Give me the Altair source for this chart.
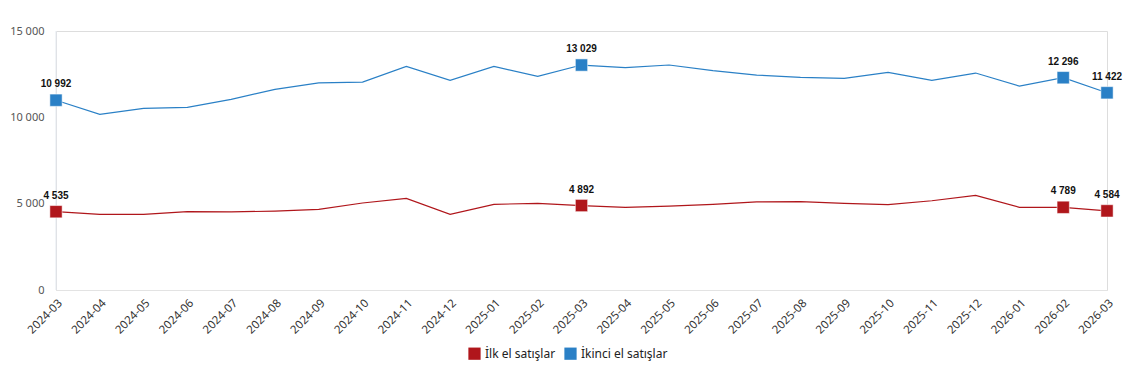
import altair as alt
import pandas as pd

months = ["2024-03","2024-04","2024-05","2024-06","2024-07","2024-08","2024-09","2024-10","2024-11","2024-12",
          "2025-01","2025-02","2025-03","2025-04","2025-05","2025-06","2025-07","2025-08","2025-09","2025-10",
          "2025-11","2025-12","2026-01","2026-02","2026-03"]
ilk_el = [4535, 4380, 4380, 4540, 4520, 4570, 4670, 5040, 5310, 4380,
          4960, 5020, 4892, 4790, 4860, 4960, 5100, 5120, 5020, 4940,
          5170, 5480, 4790, 4789, 4584]
ikinci_el = [10992, 10170, 10520, 10580, 11040, 11620, 12000, 12040, 12950, 12140,
             12950, 12370, 13029, 12875, 13030, 12700, 12450, 12315, 12260, 12605,
             12140, 12565, 11810, 12296, 11422]
series_names = ["İlk el satışlar", "İkinci el satışlar"]
series_colors = ["#b0161b", "#2a80c6"]
highlight_months = ["2024-03", "2025-03", "2026-02", "2026-03"]
y_ticks = [0, 5000, 10000, 15000]

rows = []
for name, vals in zip(series_names, [ilk_el, ikinci_el]):
    for m, v in zip(months, vals):
        rows.append({"month": m, "value": v, "series": name,
                     "label": f"{v:,}".replace(",", " "),
                     "hl": m in highlight_months})
df = pd.DataFrame(rows)

x_enc = alt.X("month:O", sort=months, title=None,
              scale=alt.Scale(type="point", padding=0),
              axis=alt.Axis(labelAngle=-45, labelAlign="right", labelBaseline="top",
                            labelFont="Noto Sans", labelFontSize=11.5, labelColor="#333333",
                            ticks=False, domainColor="#e3e3e3", labelPadding=7, grid=False))
y_enc = alt.Y("value:Q", title=None,
              scale=alt.Scale(domain=[0, 15000], nice=False),
              axis=alt.Axis(values=y_ticks, grid=False, ticks=False, domain=False,
                            labelExpr="replace(format(datum.value, ','), /,/g, ' ')",
                            labelFont="Noto Sans", labelFontSize=11, labelColor="#555555",
                            labelPadding=12))
color_enc = alt.Color("series:N", sort=series_names,
                      scale=alt.Scale(domain=series_names, range=series_colors),
                      legend=alt.Legend(title=None, orient="none", direction="horizontal",
                                        legendX=412, legendY=316, symbolType="square",
                                        symbolSize=150, symbolStrokeWidth=0,
                                        labelFont="Noto Sans", labelFontSize=12,
                                        labelColor="#222222", columnPadding=8))

base = alt.Chart(df)

vrule = alt.Chart(pd.DataFrame({"month": [months[0]]})).mark_rule(color="#e3e8ef", strokeWidth=1).encode(
    x=alt.X("month:O", sort=months, scale=alt.Scale(type="point", padding=0)),
    y=alt.value(0), y2=alt.value(259))

lines = base.mark_line(strokeWidth=1.2).encode(x=x_enc, y=y_enc, color=color_enc, detail="series:N")
points = base.transform_filter("datum.hl").mark_square(size=150, opacity=1, stroke="white", strokeWidth=0.5).encode(
    x=x_enc, y=y_enc, color=alt.Color("series:N", sort=series_names,
                                      scale=alt.Scale(domain=series_names, range=series_colors), legend=None))
labels = base.transform_filter("datum.hl").mark_text(dy=-16, font="Liberation Sans", fontWeight="bold",
                                                     fontSize=10, color="#111111").encode(
    x=x_enc, y=y_enc, text="label:N")

chart = alt.layer(vrule, lines, points, labels).properties(
    width=1051, height=259,
    autosize=alt.AutoSizeParams(type="none"),
    padding={"left": 56, "top": 31, "right": 40, "bottom": 86}
).configure_view(stroke=None).configure(background="white")

chart.save("out.html", embed_options={"renderer": "svg", "actions": False})
